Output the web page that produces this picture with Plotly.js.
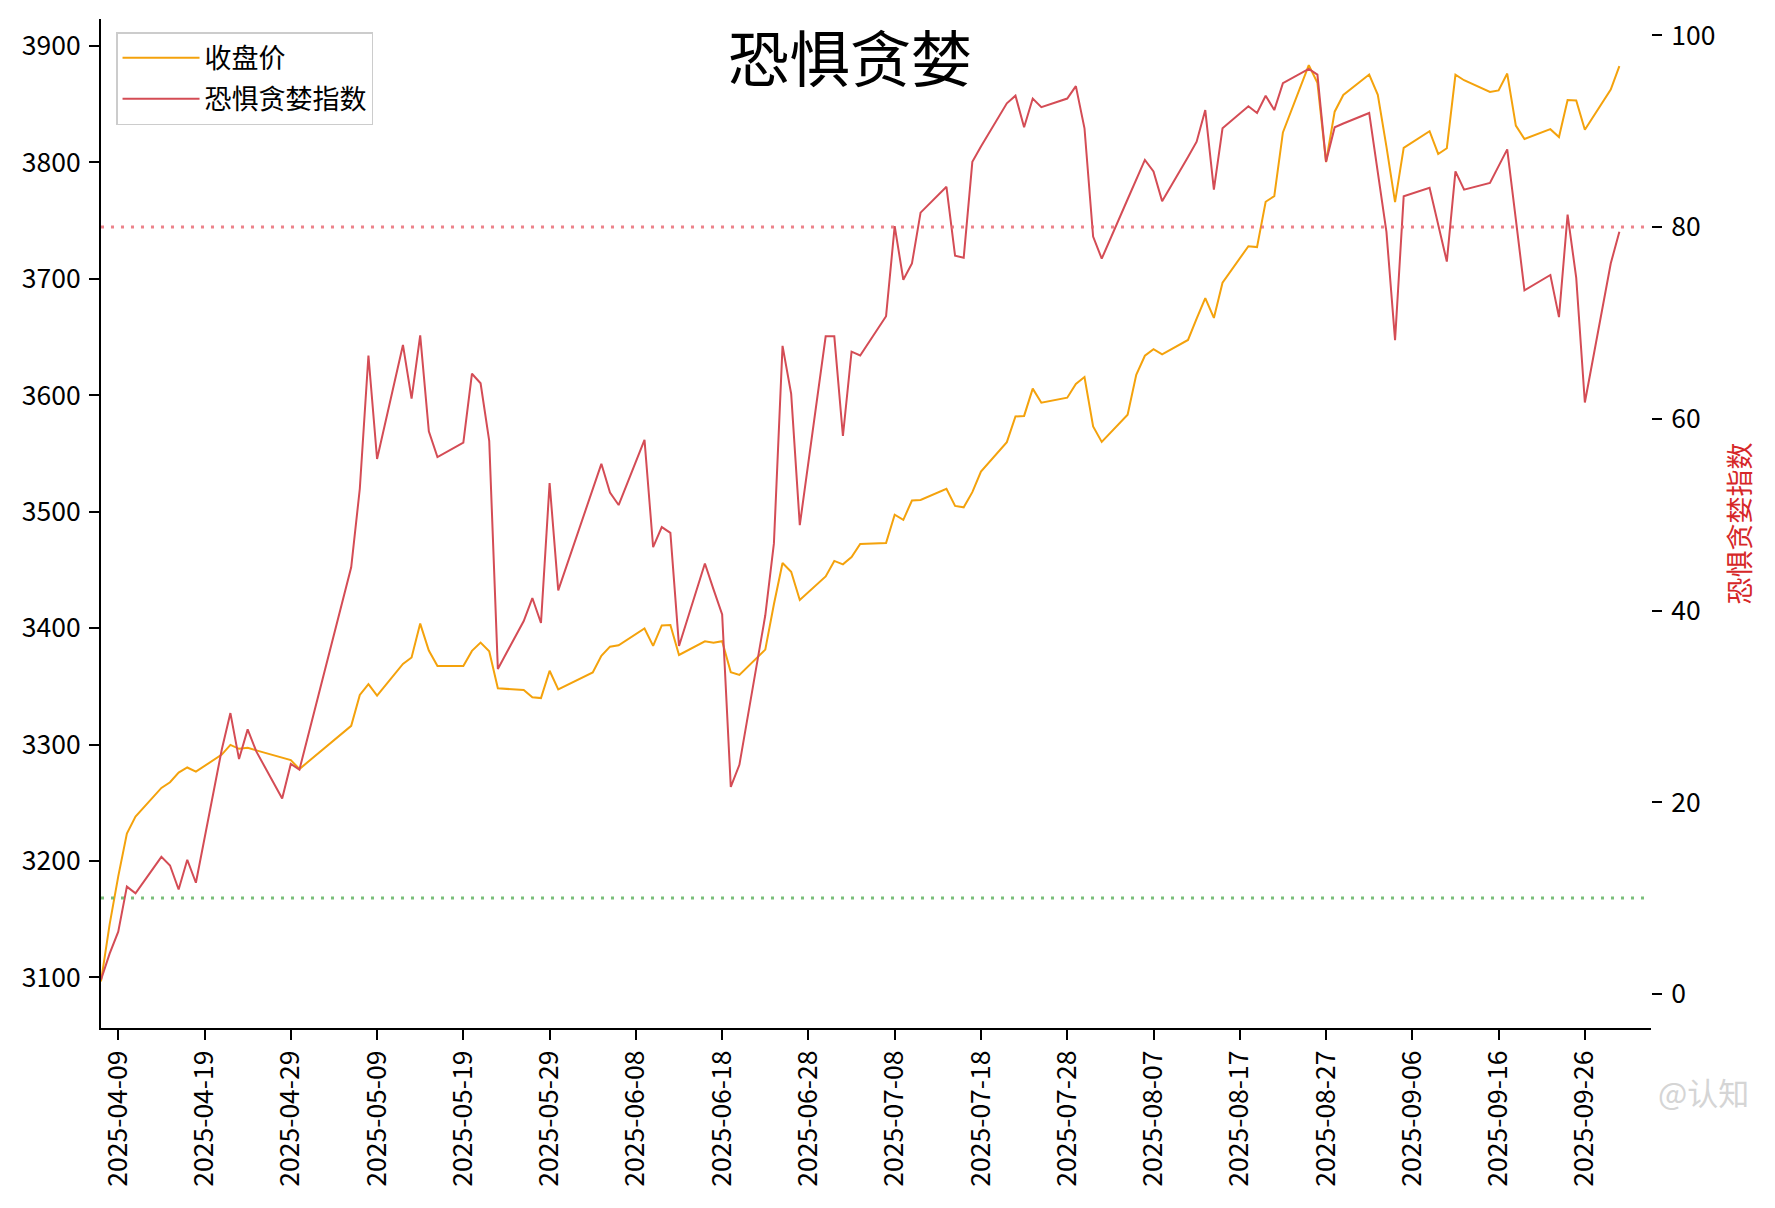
<!DOCTYPE html>
<html>
<head>
<meta charset="utf-8">
<script src="https://cdn.plot.ly/plotly-3.0.1.min.js"></script>
<style>
  html, body { margin: 0; padding: 0; background: #fff; }
  #chart { width: 1775px; height: 1208px; }
</style>
</head>
<body>
<div id="chart"></div>
<script>
// trading days, Apr 7 - Sep 30 2025
const DATES = [
  "2025-04-07","2025-04-08","2025-04-09","2025-04-10","2025-04-11","2025-04-14","2025-04-15","2025-04-16","2025-04-17","2025-04-18",
  "2025-04-21","2025-04-22","2025-04-23","2025-04-24","2025-04-25","2025-04-28","2025-04-29","2025-04-30",
  "2025-05-06","2025-05-07","2025-05-08","2025-05-09","2025-05-12","2025-05-13","2025-05-14","2025-05-15","2025-05-16",
  "2025-05-19","2025-05-20","2025-05-21","2025-05-22","2025-05-23","2025-05-26","2025-05-27","2025-05-28","2025-05-29","2025-05-30",
  "2025-06-03","2025-06-04","2025-06-05","2025-06-06","2025-06-09","2025-06-10","2025-06-11","2025-06-12","2025-06-13",
  "2025-06-16","2025-06-17","2025-06-18","2025-06-19","2025-06-20","2025-06-23","2025-06-24","2025-06-25","2025-06-26","2025-06-27","2025-06-30",
  "2025-07-01","2025-07-02","2025-07-03","2025-07-04","2025-07-07","2025-07-08","2025-07-09","2025-07-10","2025-07-11",
  "2025-07-14","2025-07-15","2025-07-16","2025-07-17","2025-07-18","2025-07-21","2025-07-22","2025-07-23","2025-07-24","2025-07-25",
  "2025-07-28","2025-07-29","2025-07-30","2025-07-31",
  "2025-08-01","2025-08-04","2025-08-05","2025-08-06","2025-08-07","2025-08-08","2025-08-11","2025-08-12","2025-08-13","2025-08-14","2025-08-15",
  "2025-08-18","2025-08-19","2025-08-20","2025-08-21","2025-08-22","2025-08-25","2025-08-26","2025-08-27","2025-08-28","2025-08-29",
  "2025-09-01","2025-09-02","2025-09-03","2025-09-04","2025-09-05","2025-09-08","2025-09-09","2025-09-10","2025-09-11","2025-09-12",
  "2025-09-15","2025-09-16","2025-09-17","2025-09-18","2025-09-19","2025-09-22","2025-09-23","2025-09-24","2025-09-25","2025-09-26",
  "2025-09-29","2025-09-30"
];

// 收盘价 (left axis)
const CLOSE = [
  3096.58, 3145.55, 3186.81, 3223.64, 3238.23, 3262.81, 3267.66, 3276.00, 3280.34, 3276.73,
  3291.43, 3299.76, 3296.36, 3297.29, 3295.06, 3288.41, 3286.65, 3279.03,
  3316.11, 3342.67, 3352.00, 3342.00, 3369.24, 3374.87, 3403.95, 3380.82, 3367.46,
  3367.58, 3380.48, 3387.57, 3380.19, 3348.37, 3346.84, 3340.69, 3339.93, 3363.45, 3347.49,
  3361.98, 3376.20, 3384.10, 3385.36, 3399.77, 3384.82, 3402.32, 3402.66, 3377.00,
  3388.73, 3387.40, 3388.81, 3362.11, 3359.90, 3381.58, 3420.57, 3455.97, 3448.45, 3424.23, 3444.43,
  3457.75, 3454.79, 3461.15, 3472.32, 3473.13, 3497.48, 3493.05, 3509.68, 3510.18,
  3519.65, 3505.00, 3503.78, 3516.83, 3534.48, 3559.79, 3581.86, 3582.30, 3605.73, 3593.66,
  3597.94, 3609.71, 3615.72, 3573.21,
  3559.95, 3583.31, 3617.60, 3633.99, 3639.67, 3635.13, 3647.55, 3665.92, 3683.46, 3666.44, 3696.77,
  3728.03, 3727.29, 3766.21, 3771.10, 3825.76, 3883.56, 3868.38, 3800.35, 3843.60, 3857.93,
  3875.53, 3858.13, 3813.56, 3765.88, 3812.51, 3826.84, 3807.29, 3812.22, 3875.31, 3870.60,
  3860.50, 3861.87, 3876.34, 3831.66, 3820.09, 3828.58, 3821.83, 3853.64, 3853.30, 3828.11,
  3862.53, 3882.78
];

// 恐惧贪婪指数 (right axis)
const FEAR_GREED = [
  1.5, 4.2, 6.5, 11.2, 10.5, 14.3, 13.4, 10.9, 14.0, 11.6,
  25.5, 29.3, 24.5, 27.6, 25.3, 20.4, 24.0, 23.4,
  44.5, 52.7, 66.6, 55.8, 67.7, 62.1, 68.7, 58.7, 56.0,
  57.5, 64.7, 63.7, 57.7, 33.9, 38.9, 41.3, 38.7, 53.3, 42.1,
  52.5, 55.3, 52.3, 51.0, 57.8, 46.6, 48.7, 48.1, 36.3,
  44.9, 42.2, 39.6, 21.6, 23.9, 39.5, 47.0, 67.6, 62.6, 48.9, 68.6,
  68.6, 58.2, 67.0, 66.6, 70.7, 80.1, 74.5, 76.2, 81.5,
  84.2, 77.0, 76.8, 86.8, 88.4, 92.9, 93.7, 90.4, 93.4, 92.5,
  93.4, 94.7, 90.3, 79.0,
  76.7, 82.9, 84.9, 87.0, 85.8, 82.7, 87.3, 88.9, 92.2, 83.9, 90.3,
  92.6, 91.9, 93.7, 92.2, 95.0, 96.5, 95.9, 86.8, 90.4, 90.8,
  91.9, 85.7, 79.5, 68.2, 83.2, 84.1, 80.2, 76.4, 85.8, 83.9,
  84.6, 86.4, 88.1, 80.8, 73.4, 75.0, 70.6, 81.3, 74.7, 61.7,
  76.2, 79.5
];

const GREED_LINE = 80;   // red dotted
const FEAR_LINE = 10;    // green dotted

const X_TICKS = [
  "2025-04-09","2025-04-19","2025-04-29","2025-05-09","2025-05-19","2025-05-29",
  "2025-06-08","2025-06-18","2025-06-28","2025-07-08","2025-07-18","2025-07-28",
  "2025-08-07","2025-08-17","2025-08-27","2025-09-06","2025-09-16","2025-09-26"
];
const LEFT_TICKS = [3100, 3200, 3300, 3400, 3500, 3600, 3700, 3800, 3900];
const RIGHT_TICKS = [0, 20, 40, 60, 80, 100];

const FONT = "Noto Sans CJK SC, Noto Sans, sans-serif";
const ORANGE = "#f4a20c";
const RED = "#d44c55";

const traces = [
  {
    x: DATES, y: CLOSE, name: "收盘价", type: "scatter", mode: "lines",
    line: { color: ORANGE, width: 2 }, yaxis: "y", legendgroup: "a",
  },
  {
    x: DATES, y: FEAR_GREED, name: "恐惧贪婪指数", type: "scatter", mode: "lines",
    line: { color: RED, width: 2 }, yaxis: "y2", legendgroup: "b",
  },
];

const axisCommon = {
  showgrid: false, zeroline: false,
  ticks: "outside", ticklen: 10, tickwidth: 2, tickcolor: "#000",
  tickfont: { family: FONT, size: 26.5, color: "#000" },
};

const layout = {
  width: 1775, height: 1208,
  paper_bgcolor: "#fff", plot_bgcolor: "#fff",
  font: { family: FONT, color: "#000" },
  margin: { l: 101, r: 124, t: 19, b: 180 },
  showlegend: true,
  legend: {
    x: 0.0097, y: 0.987, xanchor: "left", yanchor: "top",
    bgcolor: "rgba(255,255,255,0.9)", bordercolor: "#cccccc", borderwidth: 1.5,
    font: { family: FONT, size: 27, color: "#000" },
    traceorder: "grouped", tracegroupgap: 3, itemwidth: 77,
  },
  xaxis: Object.assign({}, axisCommon, {
    type: "date",
    range: ["2025-04-07", "2025-10-03 16:00"],
    tickmode: "array", tickvals: X_TICKS, ticktext: X_TICKS,
    tickangle: -90,
    showline: true, linecolor: "#000", linewidth: 2,
  }),
  yaxis: Object.assign({}, axisCommon, {
    range: [3056.6, 3923.2],
    tickmode: "array", tickvals: LEFT_TICKS,
    showline: true, linecolor: "#000", linewidth: 2,
    ticklabelstandoff: 3,
  }),
  yaxis2: Object.assign({}, axisCommon, {
    overlaying: "y", side: "right",
    range: [-3.55, 101.7],
    tickmode: "array", tickvals: RIGHT_TICKS,
    showline: false,
    ticklabelstandoff: 4,
    title: { text: "恐惧贪婪指数", standoff: 16, font: { family: FONT, size: 27, color: "#d62728" } },
  }),
  shapes: [
    { type: "line", xref: "paper", x0: 0, x1: 1, yref: "y2", y0: GREED_LINE, y1: GREED_LINE,
      line: { color: "rgba(232,100,110,0.8)", width: 3, dash: "3px,7px" } },
    { type: "line", xref: "paper", x0: 0, x1: 1, yref: "y2", y0: FEAR_LINE, y1: FEAR_LINE,
      line: { color: "rgba(100,180,100,0.85)", width: 3, dash: "3px,7px" } },
  ],
  annotations: [
    { text: "恐惧贪婪", xref: "paper", yref: "paper", x: 0.483, y: 0.964,
      xanchor: "center", yanchor: "middle", showarrow: false,
      font: { family: FONT, size: 61, color: "#000", weight: 400 } },
    { text: "@认知", xref: "paper", yref: "paper", x: 1.034, y: -0.0634,
      xanchor: "center", yanchor: "middle", showarrow: false,
      font: { family: FONT, size: 31, color: "#d5d5d5" } },
  ],
};

Plotly.newPlot("chart", traces, layout, { displayModeBar: false, staticPlot: true });
</script>
</body>
</html>
